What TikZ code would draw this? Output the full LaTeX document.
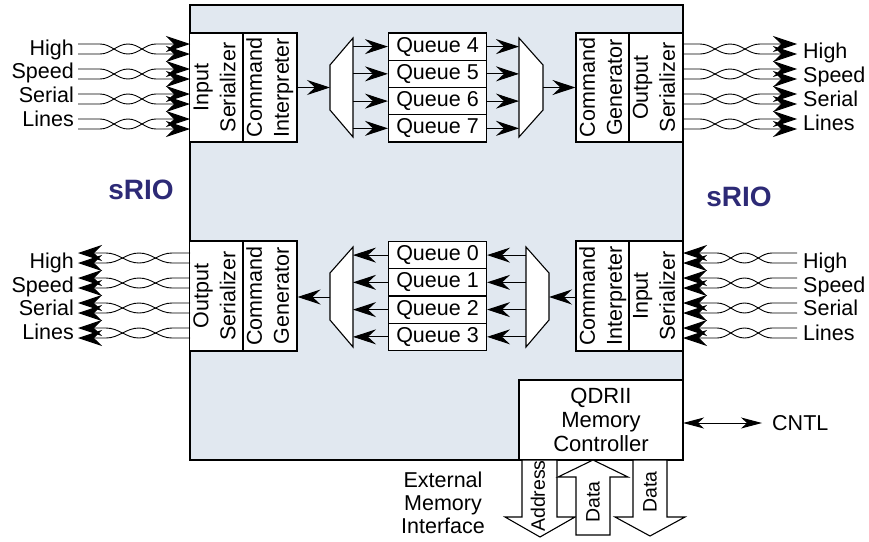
\documentclass[tikz,border=0pt]{standalone}
\usepackage{fontspec}
\setmainfont{Liberation Sans}
\usetikzlibrary{arrows.meta}
\definecolor{chipfill}{HTML}{E1E8F0}
\definecolor{sriocol}{HTML}{2D2A76}
\newcommand\vtext[1]{\rotatebox{90}{\begin{tabular}{@{}c@{}}#1\end{tabular}}}
\newcommand\twpair[7]{%
 \coordinate (#1a0) at (#2,#4); \coordinate (#1a1) at (#3,#4);
 \coordinate (#1b0) at (#2,#5); \coordinate (#1b1) at (#3,#5);
 \pgfmathsetmacro\twm{(#6+#7)/2}%
 \pgfmathsetmacro\twq{(#7-#6)/5}%
 \draw[wire] (#1a0) -- (#6,#4) .. controls ({#6+\twq},#4) and ({\twm-\twq},#5) .. (\twm,#5) .. controls ({\twm+\twq},#5) and ({#7-\twq},#4) .. (#7,#4) -- (#1a1);
 \draw[wire] (#1b0) -- (#6,#5) .. controls ({#6+\twq},#5) and ({\twm-\twq},#4) .. (\twm,#4) .. controls ({\twm+\twq},#4) and ({#7-\twq},#5) .. (#7,#5) -- (#1b1);
}
\tikzset{
 blk/.style={draw, fill=white, line width=1.1pt, inner sep=0pt, font=\fontsize{21.5}{27}\selectfont},
 qbox/.style={draw, fill=white, line width=1.1pt, minimum width=98pt, minimum height=27.25pt, inner sep=0pt, font=\fontsize{21.5}{24}\selectfont},
 wire/.style={line width=0.9pt, -{Stealth[length=24pt,width=16pt,inset=8pt]}},
 flow/.style={line width=1pt, -{Stealth[length=23pt,width=15pt,inset=8pt]}},
 lbl/.style={inner sep=0pt, font=\fontsize{21.5}{24}\selectfont},
 smalllbl/.style={inner sep=0pt, font=\fontsize{19.5}{22}\selectfont},
 mux/.style={draw, fill=white, line width=1.1pt},
 fat/.style={draw, fill=white, line width=1.1pt, line join=miter},
 srio/.style={inner sep=0pt, text=sriocol, font=\fontsize{28}{30}\selectfont\bfseries},
}
\begin{document}
\begin{tikzpicture}[x=1pt,y=-1pt]
\useasboundingbox (0,0) rectangle (869,541);
% chip outline
\node[draw, fill=chipfill, line width=1.1pt, minimum width=493pt, minimum height=455pt, inner sep=0pt] (chip) at (436.5,232.5) {};
% blocks
\node[blk, minimum width=53pt, minimum height=109pt] (tlA) at (216.5,87.5) {\vtext{Input\\Serializer}};
\node[blk, minimum width=54pt, minimum height=109pt] (tlB) at (270,87.5) {\vtext{Command\\Interpreter}};
\node[blk, minimum width=52pt, minimum height=109pt] (trA) at (603,87.5) {\vtext{Command\\Generator}};
\node[blk, minimum width=54pt, minimum height=109pt] (trB) at (656,87.5) {\vtext{Output\\Serializer}};
\node[blk, minimum width=53pt, minimum height=110pt] (blA) at (216.5,296) {\vtext{Output\\Serializer}};
\node[blk, minimum width=54pt, minimum height=110pt] (blB) at (270,296) {\vtext{Command\\Generator}};
\node[blk, minimum width=52pt, minimum height=110pt] (brA) at (603,296) {\vtext{Command\\Interpreter}};
\node[blk, minimum width=54pt, minimum height=110pt] (brB) at (656,296) {\vtext{Input\\Serializer}};
% queues
\foreach \n/\k in {4/0,5/1,6/2,7/3}
  \node[qbox] (q\n) at (437.5,{46.6+27.25*\k}) {Queue \n};
\foreach \n/\k in {0/0,1/1,2/2,3/3}
  \node[qbox] (q\n) at (437.5,{255.1+27.25*\k}) {Queue \n};
% muxes
\draw[mux] (330,65) -- (353,38) -- (353,137) -- (330,110) -- cycle;
\coordinate (m1in) at (330,87.5); \coordinate (m1out) at (353,87.5);
\draw[mux] (519,38) -- (543,65) -- (543,110) -- (519,137) -- cycle;
\coordinate (m2in) at (519,87.5); \coordinate (m2out) at (543,87.5);
\draw[mux] (330,273) -- (353,247) -- (353,347) -- (330,320) -- cycle;
\coordinate (m3in) at (353,297); \coordinate (m3out) at (330,297);
\draw[mux] (526,247) -- (549,273) -- (549,320) -- (526,347) -- cycle;
\coordinate (m4in) at (526,297); \coordinate (m4out) at (549,297);
% flows top
\draw[flow] (tlB.east) -- (m1in);
\foreach \n in {4,5,6,7} {
  \draw[flow] (q\n.west -| m1out) -- (q\n.west);
  \draw[flow] (q\n.east) -- (q\n.east -| m2in);
}
\draw[flow] (m2out) -- (trA.west);
% flows bottom
\foreach \n in {0,1,2,3} {
  \draw[flow] (q\n.west) -- (q\n.west -| m3in);
  \draw[flow] (q\n.east -| m4in) -- (q\n.east);
}
\draw[flow] (m3out) -- (m3out -| blB.east);
\draw[flow] (m4out -| brA.west) -- (m4out);
% serial lines
\foreach \i/\ya/\yb in {1/44/54,2/69/79,3/94/104,4/119/129} {
  \twpair{tl\i}{78}{190}{\ya}{\yb}{100}{156}
  \twpair{tr\i}{683}{797}{\ya}{\yb}{700}{760}
}
\foreach \i/\ya/\yb in {1/253/263,2/278/288,3/303/313,4/328/338} {
  \twpair{bl\i}{190}{78}{\ya}{\yb}{172}{106}
  \twpair{br\i}{797}{683}{\ya}{\yb}{772}{717}
}
% serial labels
\node[lbl, anchor=base east] (tlt1) at (74,55) {High};
\node[lbl, anchor=base east] (tlt2) at (74,78) {Speed};
\node[lbl, anchor=base east] (tlt3) at (74,102) {Serial};
\node[lbl, anchor=base east] (tlt4) at (74,126) {Lines};
\node[lbl, anchor=base west] (trt1) at (803,58) {High};
\node[lbl, anchor=base west] (trt2) at (803,82) {Speed};
\node[lbl, anchor=base west] (trt3) at (803,106) {Serial};
\node[lbl, anchor=base west] (trt4) at (803,130) {Lines};
\node[lbl, anchor=base east] (blt1) at (74,268) {High};
\node[lbl, anchor=base east] (blt2) at (74,292) {Speed};
\node[lbl, anchor=base east] (blt3) at (74,315) {Serial};
\node[lbl, anchor=base east] (blt4) at (74,339) {Lines};
\node[lbl, anchor=base west] (brt1) at (803,268) {High};
\node[lbl, anchor=base west] (brt2) at (803,292) {Speed};
\node[lbl, anchor=base west] (brt3) at (803,315) {Serial};
\node[lbl, anchor=base west] (brt4) at (803,340) {Lines};
% sRIO
\node[srio] (srioL) at (141,190) {sRIO};
\node[srio] (srioR) at (739,197) {sRIO};
% memory controller
\node[draw, fill=white, line width=1.1pt, minimum width=164pt, minimum height=80pt, inner sep=0pt, align=center, font=\fontsize{22}{24}\selectfont] (qdr) at (601,420) {QDRII\\Memory\\Controller};
\node[lbl, anchor=west] (cntl) at (772,423) {CNTL};
\coordinate (cntlA) at (683,423);
\draw[line width=1pt, {Stealth[length=21pt,width=11pt,inset=6pt]}-{Stealth[length=21pt,width=11pt,inset=6pt]}, shorten >=10pt] (cntlA) -- (cntl.west);
% external memory interface
\node[lbl, align=center, font=\fontsize{21.5}{23}\selectfont] (ext) at (443,503) {External\\Memory\\Interface};
\draw[fat] (522,460) -- (557,460) -- (557,517) -- (575,517) -- (540,537) -- (505,517) -- (522,517) -- cycle;
\draw[fat] (593,460) -- (628,477) -- (610,477) -- (610,535) -- (576,535) -- (576,477) -- (558,477) -- cycle;
\draw[fat] (633,460) -- (667,460) -- (667,517) -- (685,517) -- (650,536) -- (615,517) -- (633,517) -- cycle;
\node[smalllbl, rotate=90] (addr) at (538,496) {Address};
\node[smalllbl, rotate=90] (dat1) at (593,502) {Data};
\node[smalllbl, rotate=90] (dat2) at (650,492) {Data};
\end{tikzpicture}
\end{document}
